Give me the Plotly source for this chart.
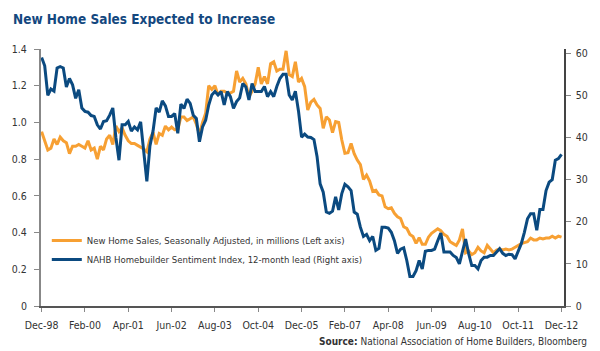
import pandas as pd
import plotly.graph_objects as go

months = [d.strftime("%b-%y") for d in pd.date_range("1998-12-01", "2012-12-01", freq="MS")]

home_sales = [
    0.95, 0.90, 0.85, 0.86, 0.91, 0.88, 0.92, 0.90, 0.89, 0.83, 0.87, 0.87,
    0.88, 0.87, 0.86, 0.90, 0.85, 0.86, 0.80, 0.87, 0.85, 0.91, 0.93, 0.88,
    0.98, 0.95, 0.97, 0.93, 0.90, 0.885, 0.885, 0.875, 0.865, 0.855, 0.84, 0.91,
    0.946, 0.88, 0.94, 0.93, 0.98, 0.96, 0.975, 0.96, 0.96, 1.03, 1.03, 1.01,
    1.02, 1.03, 0.99, 0.935, 1.00, 1.05, 1.20, 1.18, 1.20, 1.15, 1.17, 1.17,
    1.16, 1.16, 1.17, 1.28, 1.22, 1.24, 1.21, 1.14, 1.17, 1.21, 1.30, 1.21,
    1.25, 1.21, 1.32, 1.33, 1.28, 1.29, 1.29, 1.39, 1.26, 1.25, 1.33, 1.22,
    1.24, 1.195, 1.068, 1.11, 1.125, 1.095, 1.076, 0.968, 1.03, 1.013, 0.944, 1.005,
    1.00, 0.904, 0.832, 0.835, 0.886, 0.83, 0.795, 0.77, 0.69, 0.713, 0.68, 0.625,
    0.63, 0.605, 0.60, 0.54, 0.53, 0.535, 0.505, 0.486, 0.477, 0.432, 0.423, 0.39,
    0.378, 0.341, 0.372, 0.336, 0.336, 0.375, 0.396, 0.41, 0.42, 0.41, 0.39, 0.38,
    0.35, 0.34, 0.33, 0.36, 0.42, 0.29, 0.30, 0.28, 0.29, 0.32, 0.30, 0.29,
    0.33, 0.31, 0.29, 0.305, 0.31, 0.305, 0.31, 0.305, 0.31, 0.32, 0.33, 0.34,
    0.345, 0.35, 0.37, 0.36, 0.36, 0.37, 0.365, 0.37, 0.37, 0.38, 0.37, 0.38, 0.375,
]

nahb_index = [
    59, 57, 50, 51.5, 51, 56.5, 56.8, 56.5, 52, 54, 52.5, 49.3,
    51.3, 47, 46.2, 46, 45.2, 45, 43, 42, 43.8, 44, 45.3, 47,
    40, 34.6, 43, 43, 43.8, 41.5, 42.5, 41.8, 43.7, 36.2, 29.6, 38,
    41.5, 47, 46, 48.7, 47.5, 45, 45, 45.7, 41, 47.9, 46.9, 49.1,
    48.1, 45.3, 44.5, 39, 42.5, 44.1, 47.7, 50.1, 50.9, 50.1, 50.9, 47.7,
    50.9, 49.7, 46.9, 48.5, 49.4, 52.8, 52, 48.9, 52.8, 50.9, 50.9, 50.9,
    52.1, 49.7, 50.9, 49.7, 52.1, 54, 55, 55, 50.1, 48.9, 51, 46.3,
    40.1, 40.8, 40.1, 40, 39.5, 35.5, 29, 27, 22.3, 22, 22.5, 25.9,
    22.8, 26.7, 28.9, 28.3, 27.4, 22.3, 21.8, 18.7, 16.5, 17, 15.5, 16.5,
    13.2, 13.7, 18.7, 18.7, 18.5, 17.5, 15.5, 12.5, 13.5, 13.8, 10.8, 7,
    7, 8.4, 10.8, 8.8, 13, 13.2, 13.2, 13.5, 15.5, 17.3, 12.8, 12.8,
    12.8, 12, 11.5, 10, 13.2, 15.9, 12.4, 9.6, 9.6, 8.8, 10.8, 11.6,
    11.6, 12, 12, 12.8, 13.6, 12.5, 12, 12.3, 12.2, 11.2, 13.2, 14.8,
    17.5, 20.7, 21.9, 21.9, 18, 22.9, 22.9, 27.4, 29.4, 30, 34.6, 35, 36,
]

x_ticks = months[::14]
left_ticks = [0, 0.2, 0.4, 0.6, 0.8, 1.0, 1.2, 1.4]
left_labels = ["0", "0.2", "0.4", "0.6", "0.8", "1.0", "1.2", "1.4"]
right_ticks = [0, 10, 20, 30, 40, 50, 60]

FONT = "DejaVu Sans Condensed, DejaVu Sans, sans-serif"
ORANGE = "#F7A033"
BLUE = "#0B4A80"

fig = go.Figure()
fig.add_trace(go.Scatter(
    x=months, y=home_sales, mode="lines",
    name="New Home Sales, Seasonally Adjusted, in millions (Left axis)",
    line=dict(color=ORANGE, width=3),
))
fig.add_trace(go.Scatter(
    x=months, y=nahb_index, mode="lines", yaxis="y2",
    name="NAHB Homebuilder Sentiment Index, 12-month lead (Right axis)",
    line=dict(color=BLUE, width=3),
))

fig.update_layout(
    width=600, height=351,
    margin=dict(l=30, r=29, t=49, b=45),
    paper_bgcolor="white", plot_bgcolor="white",
    font=dict(family=FONT, size=10.5, color="#333333"),
    title=dict(
        text="<b>New Home Sales Expected to Increase</b>",
        x=13 / 600, xanchor="left", xref="container",
        y=1 - 19 / 351, yanchor="middle", yref="container",
        font=dict(family=FONT, size=13.5, color="#14487F"),
    ),
    xaxis=dict(
        type="category", range=[-0.2, 168.8],
        tickmode="array", tickvals=x_ticks, ticktext=x_ticks,
        showline=True, linecolor="#555555", linewidth=1.5,
        ticks="outside", ticklen=4, tickcolor="#888888", tickwidth=1,
        showgrid=False, zeroline=False, tickangle=0,
        ticklabelstandoff=5,
    ),
    yaxis=dict(
        range=[0, 1.4], tickmode="array", tickvals=left_ticks, ticktext=left_labels,
        showline=True, linecolor="#888888", linewidth=2,
        ticks="outside", ticklen=5, tickcolor="#888888",
        showgrid=False, zeroline=False, ticklabelstandoff=5,
    ),
    yaxis2=dict(
        range=[0, 61], overlaying="y", side="right",
        tickmode="array", tickvals=right_ticks,
        showline=True, linecolor="#444444", linewidth=1.5,
        ticks="outside", ticklen=5, tickcolor="#888888",
        showgrid=False, zeroline=False, ticklabelstandoff=3,
    ),
    legend=dict(
        x=(36 - 30) / 541, xanchor="left",
        y=(306 - 226) / 257, yanchor="top",
        bgcolor="rgba(0,0,0,0)", font=dict(family=FONT, size=9.5, color="#333333"),
        tracegroupgap=0,
    ),
    showlegend=True,
)

fig.add_annotation(
    xref="paper", yref="paper",
    x=(597 - 30) / 541, y=(306 - 341) / 257,
    xanchor="right", yanchor="middle", showarrow=False,
    text="<b>Source:</b> National Association of Home Builders, Bloomberg",
    font=dict(family=FONT, size=10, color="#333333"),
)

fig.write_html("out.html")
